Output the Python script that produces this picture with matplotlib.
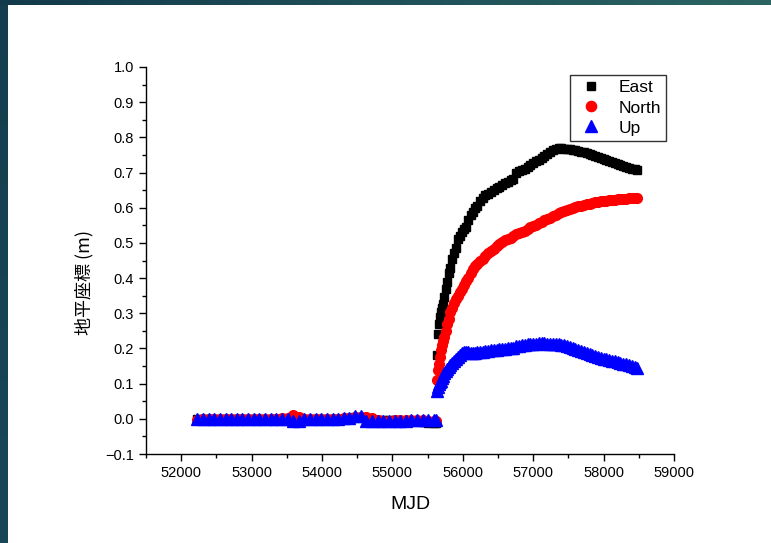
import numpy as np
import matplotlib
matplotlib.use("Agg")
import matplotlib.pyplot as plt
from matplotlib.ticker import MultipleLocator, FuncFormatter

plt.rcParams['font.family'] = ['Liberation Sans', 'Noto Sans CJK JP', 'DejaVu Sans']

# ---------------- data ----------------
series_names = ["East", "North", "Up"]

t_pre = [52230, 52310, 52390, 52470, 52550, 52630, 52710, 52790, 52870, 52950,
         53030, 53110, 53190, 53270, 53350, 53430, 53510, 53590, 53670, 53750,
         53830, 53910, 53990, 54070, 54150, 54230, 54310, 54390, 54470, 54550,
         54630, 54710, 54790, 54870, 54950, 55030, 55110, 55190, 55270, 55350,
         55430, 55510, 55590, 55620]
east_pre = [0.000, 0.000, 0.000, 0.000, 0.000, 0.000, 0.000, 0.000, 0.000, 0.000,
            0.000, 0.000, 0.000, 0.000, 0.000, 0.000, 0.000, 0.002, 0.002, 0.000,
            0.000, 0.000, 0.000, 0.000, 0.000, 0.000, 0.000, 0.002, 0.004, 0.004,
            0.000, -0.002, -0.003, -0.004, -0.004, -0.004, -0.005, -0.005, -0.005, -0.006,
            -0.009, -0.011, -0.012, -0.012]
north_pre = [-0.002, -0.001, 0.000, 0.000, 0.000, 0.000, 0.000, 0.000, 0.000, 0.000,
             0.000, 0.000, 0.000, 0.000, 0.000, 0.001, 0.003, 0.012, 0.004, 0.000,
             0.000, 0.000, 0.000, 0.000, 0.000, 0.000, 0.001, 0.002, 0.005, 0.006,
             0.004, 0.003, -0.004, -0.005, -0.005, -0.004, -0.003, -0.002, -0.002, -0.003,
             -0.004, -0.005, -0.006, -0.006]
up_pre = [0.000, 0.000, 0.000, 0.000, 0.000, 0.000, 0.000, 0.000, 0.000, 0.000,
          0.000, 0.000, 0.000, 0.000, 0.000, 0.000, 0.000, -0.006, -0.006, 0.000,
          0.000, 0.000, 0.000, 0.000, 0.000, 0.000, 0.001, 0.003, 0.008, 0.008,
          -0.005, -0.005, -0.005, -0.005, -0.005, -0.005, -0.005, -0.005, -0.004, -0.003,
          -0.003, -0.003, -0.003, -0.003]

t_post = [55635, 55648, 55662, 55676, 55690, 55705, 55720, 55740, 55760, 55780,
          55800, 55825, 55850, 55875, 55900, 55930, 55960, 55990, 56020, 56050,
          56080, 56110, 56140, 56170, 56200, 56240, 56280, 56320, 56360, 56400,
          56440, 56480, 56520, 56560, 56600, 56640, 56680, 56720, 56760, 56800,
          56840, 56880, 56920, 56960, 57000, 57040, 57080, 57120, 57160, 57200,
          57240, 57280, 57320, 57360, 57400, 57440, 57480, 57520, 57560, 57600,
          57640, 57680, 57720, 57760, 57800, 57840, 57880, 57920, 57960, 58000,
          58040, 58080, 58120, 58160, 58200, 58240, 58280, 58320, 58360, 58400,
          58440, 58480]
east_post = [0.180, 0.240, 0.270, 0.290, 0.305, 0.315, 0.325, 0.345, 0.370, 0.390,
             0.415, 0.430, 0.455, 0.470, 0.485, 0.510, 0.520, 0.530, 0.540, 0.545,
             0.565, 0.578, 0.588, 0.598, 0.605, 0.618, 0.628, 0.635, 0.640, 0.645,
             0.650, 0.655, 0.660, 0.665, 0.670, 0.674, 0.678, 0.682, 0.700, 0.703,
             0.706, 0.710, 0.716, 0.722, 0.727, 0.732, 0.737, 0.742, 0.747, 0.753,
             0.758, 0.763, 0.767, 0.770, 0.770, 0.768, 0.767, 0.766, 0.764, 0.763,
             0.761, 0.759, 0.757, 0.755, 0.752, 0.750, 0.748, 0.745, 0.742, 0.739,
             0.736, 0.733, 0.730, 0.727, 0.724, 0.721, 0.718, 0.716, 0.713, 0.711,
             0.709, 0.707]
north_post = [0.110, 0.140, 0.155, 0.175, 0.195, 0.210, 0.222, 0.232, 0.250, 0.270,
              0.285, 0.303, 0.315, 0.328, 0.340, 0.350, 0.360, 0.368, 0.380, 0.393,
              0.400, 0.415, 0.425, 0.433, 0.440, 0.448, 0.455, 0.462, 0.470, 0.477,
              0.483, 0.490, 0.496, 0.502, 0.507, 0.510, 0.515, 0.520, 0.524, 0.527,
              0.531, 0.535, 0.540, 0.544, 0.548, 0.552, 0.556, 0.560, 0.564, 0.568,
              0.572, 0.576, 0.580, 0.584, 0.587, 0.590, 0.593, 0.596, 0.599, 0.601,
              0.604, 0.606, 0.608, 0.610, 0.612, 0.614, 0.615, 0.617, 0.618, 0.619,
              0.620, 0.621, 0.622, 0.623, 0.624, 0.625, 0.626, 0.626, 0.627, 0.627,
              0.628, 0.628]
up_post = [0.078, 0.090, 0.100, 0.105, 0.108, 0.115, 0.122, 0.130, 0.136, 0.142,
           0.148, 0.154, 0.160, 0.165, 0.170, 0.176, 0.182, 0.187, 0.189, 0.190,
           0.190, 0.186, 0.187, 0.188, 0.189, 0.190, 0.191, 0.192, 0.193, 0.195,
           0.196, 0.197, 0.198, 0.198, 0.199, 0.200, 0.200, 0.201, 0.207, 0.208,
           0.210, 0.211, 0.212, 0.213, 0.214, 0.214, 0.215, 0.215, 0.215, 0.214,
           0.214, 0.213, 0.213, 0.212, 0.211, 0.209, 0.206, 0.203, 0.200, 0.198,
           0.195, 0.192, 0.189, 0.186, 0.184, 0.181, 0.179, 0.176, 0.174, 0.171,
           0.169, 0.167, 0.165, 0.163, 0.161, 0.159, 0.157, 0.155, 0.153, 0.151,
           0.148, 0.145]

x_major_ticks = [52000, 53000, 54000, 55000, 56000, 57000, 58000, 59000]
y_major_ticks = [-0.1, 0.0, 0.1, 0.2, 0.3, 0.4, 0.5, 0.6, 0.7, 0.8, 0.9, 1.0]

# ---------------- figure ----------------
W, H = 771, 543
fig = plt.figure(figsize=(W / 100, H / 100), dpi=100)

# slide-like dark teal frame (top and left)
top_ax = fig.add_axes([0, 1 - 5 / H, 1, 5 / H])
top_ax.imshow(np.linspace(0, 1, 256)[None, :], aspect='auto',
              cmap=matplotlib.colors.LinearSegmentedColormap.from_list(
                  "t", ["#133a4a", "#1f5059", "#2b6462"]))
top_ax.axis('off')
left_ax = fig.add_axes([0, 0, 8 / W, 1 - 5 / H])
left_ax.imshow(np.linspace(0, 1, 256)[:, None], aspect='auto',
               cmap=matplotlib.colors.LinearSegmentedColormap.from_list(
                   "l", ["#143e4d", "#184856"]))
left_ax.axis('off')

ax = fig.add_axes([146 / W, 1 - 454 / H, 528 / W, 387 / H])

t_all = t_pre + t_post
east = east_pre + east_post
north = north_pre + north_post
up = up_pre + up_post

ax.plot(t_all, east, linestyle='none', marker='s', ms=6, color='black',
        mec='black', label=series_names[0])
ax.plot(t_all, north, linestyle='none', marker='o', ms=7, color='red',
        mec='red', label=series_names[1])
ax.plot(t_all, up, linestyle='none', marker='^', ms=8.5, color='blue',
        mec='blue', label=series_names[2])

ax.set_xlim(51500, 59000)
ax.set_ylim(-0.1, 1.0)
ax.set_xticks(x_major_ticks)
ax.set_xticklabels([str(v) for v in x_major_ticks])
ax.xaxis.set_minor_locator(MultipleLocator(500))
ax.set_yticks(y_major_ticks)
ax.yaxis.set_major_formatter(FuncFormatter(lambda v, p: f"{v:.1f}".replace("-", "\u2212")))
ax.yaxis.set_minor_locator(MultipleLocator(0.05))

for s in ['top', 'right']:
    ax.spines[s].set_visible(False)
for s in ['left', 'bottom']:
    ax.spines[s].set_linewidth(1.0)

ax.tick_params(which='major', direction='out', length=5, width=1, labelsize=10.5)
ax.tick_params(which='minor', direction='out', length=3, width=1)

ax.set_xlabel("MJD", fontsize=14, labelpad=12)
ax.set_ylabel("地平座標 (m)", fontsize=13, family=['Noto Sans CJK JP', 'DejaVu Sans'])
ax.yaxis.set_label_coords(-0.099, 0.442)

leg = ax.legend(loc='upper right', bbox_to_anchor=(0.985, 0.979), frameon=True,
                fancybox=False, edgecolor='black', fontsize=12.5, markerscale=1.05,
                handletextpad=0.7, borderpad=0.3, labelspacing=0.28,
                handlelength=1.8, borderaxespad=0)
leg.get_frame().set_linewidth(1.0)

fig.savefig("out.png", dpi=100)
